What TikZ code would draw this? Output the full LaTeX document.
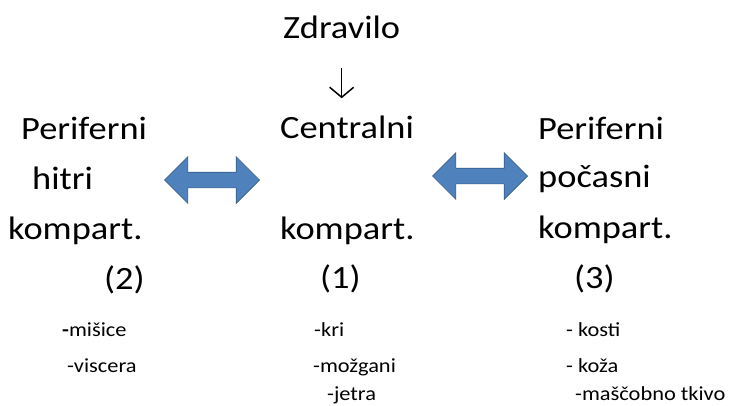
\documentclass[tikz,border=0pt]{standalone}
\usepackage{fontspec}
\setmainfont{Carlito}[FakeStretch=1.12]
\usepackage{tikz}
\usetikzlibrary{shapes,shapes.arrows,arrows.meta,positioning}
\definecolor{arrfill}{RGB}{79,129,189}
\definecolor{arrline}{RGB}{56,93,138}

\begin{document}
\begin{tikzpicture}[x=1pt,y=-1pt,
  bigtxt/.style={anchor=base west,inner sep=0pt,font=\fontsize{32.5}{38}\selectfont},
  smalltxt/.style={anchor=base west,inner sep=0pt,font=\fontsize{20}{23}\selectfont},
  dblarr/.style={double arrow,draw=arrline,fill=arrfill,line width=0.7pt,
    minimum height=95pt,minimum width=46pt,inner sep=7.5pt,
    double arrow head extend=15.5pt},
  downarr/.style={line width=1.5pt,-{Straight Barb[length=10pt,width=24pt]}}
]
\useasboundingbox (0,0) rectangle (733,405);

% central compartment
\node[bigtxt] at (283,38) (zdr) {Zdravilo};
\node[bigtxt] at (280,138) (cen1) {Centralni};
\node[bigtxt] at (280,239) (cen2) {kompart.};
\node[bigtxt] at (320,288) (cen3) {(1)};

% fast peripheral compartment
\node[bigtxt] at (21,139) (hit1) {Periferni};
\node[bigtxt] at (32,189) (hit2) {hitri};
\node[bigtxt] at (8,239) (hit3) {kompart.};
\node[bigtxt] at (104,289) (hit4) {(2)};

% slow peripheral compartment
\node[bigtxt] at (538,139) (poc1) {Periferni};
\node[bigtxt] at (538,187) (poc2) {počasni};
\node[bigtxt] at (538,238) (poc3) {kompart.};
\node[bigtxt] at (574,288) (poc4) {(3)};

% tissues
\node[smalltxt] at (62,336) (t1) {\textbf{-}mišice};
\node[smalltxt] at (67,372) (t2) {-viscera};
\node[smalltxt] at (314,336) (t3) {-kri};
\node[smalltxt] at (313,372) (t4) {-možgani};
\node[smalltxt] at (327,400) (t5) {-jetra};
\node[smalltxt] at (566,336) (t6) {- kosti};
\node[smalltxt] at (566,372) (t7) {- koža};
\node[smalltxt] at (575,400) (t8) {-maščobno tkivo};

% arrows
\node[dblarr] at (212,180) (a1) {};
\node[dblarr] at (480,176) (a2) {};

\draw[downarr,shorten <=30pt,shorten >=17pt] (zdr.south) -- (zdr.south |- cen1.north);

\end{tikzpicture}
\end{document}
